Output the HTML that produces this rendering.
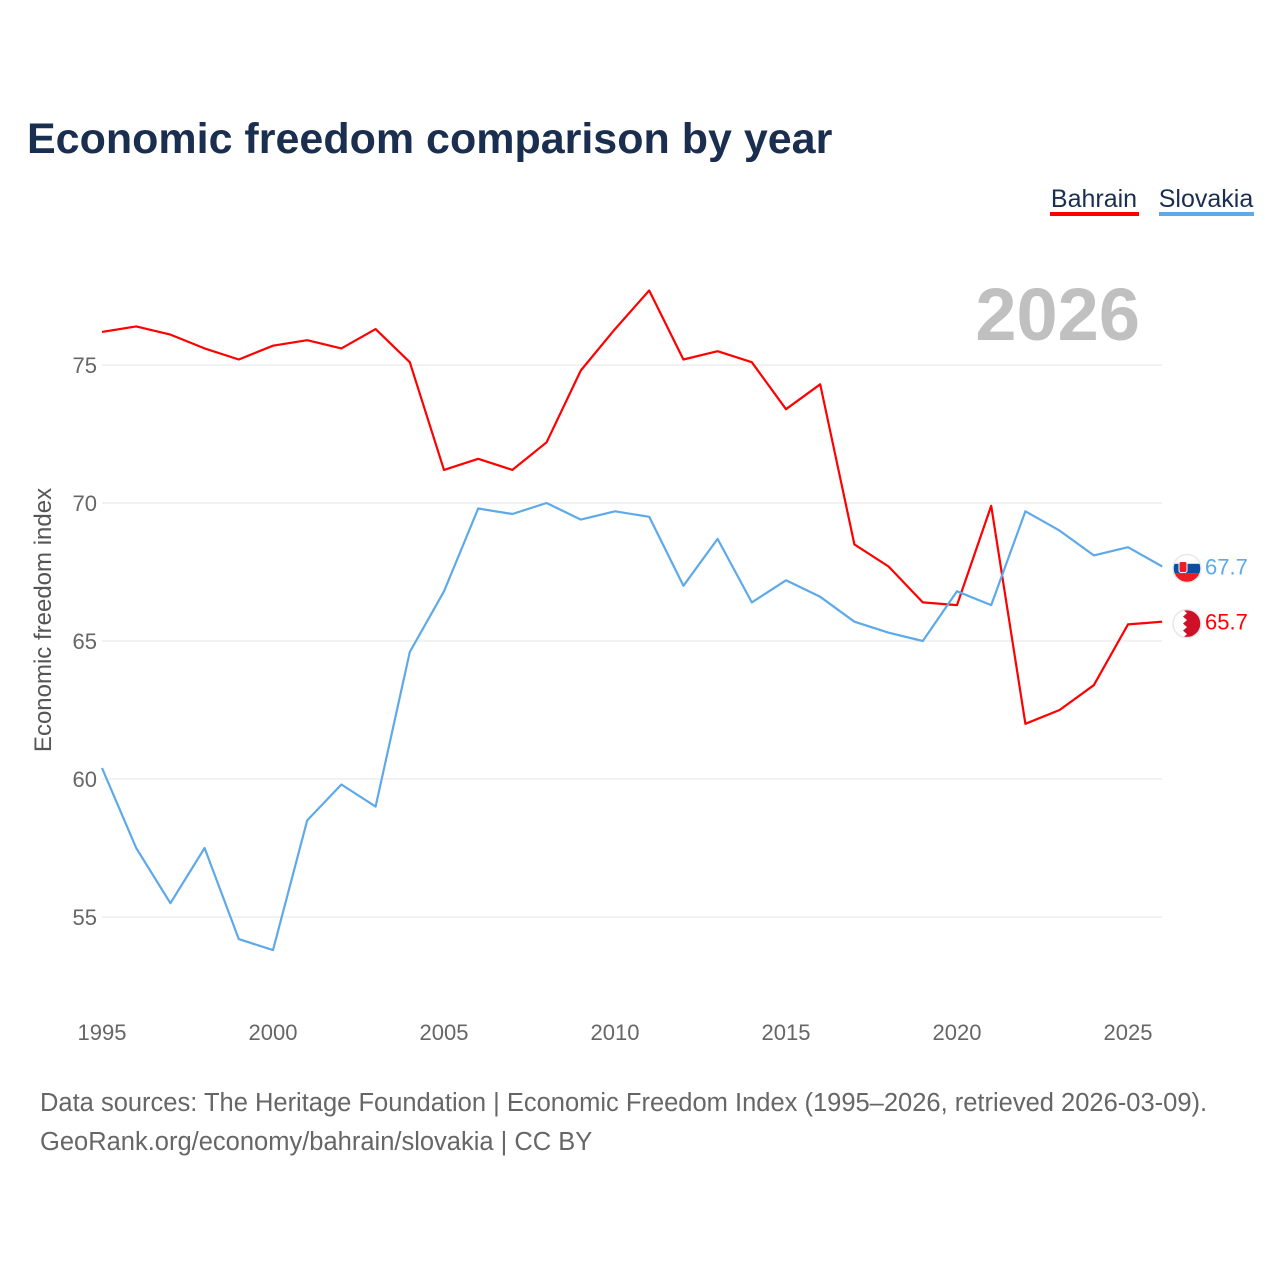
<!DOCTYPE html>
<html><head><meta charset="utf-8">
<style>
body{margin:0;background:#fff;font-family:"Liberation Sans",sans-serif;}
#wrap{position:relative;width:1280px;height:1280px;}
</style></head>
<body>
<div id="wrap">
<svg id="chart" width="1280" height="1280" xmlns="http://www.w3.org/2000/svg">
<defs><clipPath id="cc"><circle cx="0" cy="0" r="14"/></clipPath></defs>
<text x="27" y="153" font-size="43" font-weight="bold" fill="#1a2e4f">Economic freedom comparison by year</text>
<g>
<text x="1094" y="207" font-size="25" fill="#1a2e4f" text-anchor="middle">Bahrain</text>
<rect x="1050" y="212" width="89" height="4" fill="#ff0000"/>
</g>
<g>
<text x="1206" y="207" font-size="25" fill="#1a2e4f" text-anchor="middle">Slovakia</text>
<rect x="1159" y="212" width="95" height="4" fill="#5da9e9"/>
</g>
<text x="1140" y="340" font-size="74" font-weight="bold" fill="#c0c0c0" text-anchor="end">2026</text>
<text transform="translate(51,620) rotate(-90)" font-size="24" fill="#555" text-anchor="middle">Economic freedom index</text>
<g id="grid"></g><g id="xticks"></g><g id="series"></g>
<text x="40" y="1111" font-size="25.5" fill="#666">Data sources: The Heritage Foundation | Economic Freedom Index (1995–2026, retrieved 2026-03-09).</text>
<text x="40" y="1150" font-size="25.5" fill="#666">GeoRank.org/economy/bahrain/slovakia | CC BY</text>
</svg>
</div>
<script>
const years = [1995,1996,1997,1998,1999,2000,2001,2002,2003,2004,2005,2006,2007,2008,2009,2010,2011,2012,2013,2014,2015,2016,2017,2018,2019,2020,2021,2022,2023,2024,2025,2026];
const bahrain = [76.2,76.4,76.1,75.6,75.2,75.7,75.9,75.6,76.3,75.1,71.2,71.6,71.2,72.2,74.8,76.3,77.7,75.2,75.5,75.1,73.4,74.3,68.5,67.7,66.4,66.3,69.9,62.0,62.5,63.4,65.6,65.7];
const slovakia = [60.4,57.5,55.5,57.5,54.2,53.8,58.5,59.8,59.0,64.6,66.8,69.8,69.6,70.0,69.4,69.7,69.5,67.0,68.7,66.4,67.2,66.6,65.7,65.3,65.0,66.8,66.3,69.7,69.0,68.1,68.4,67.7];
const yTicks = [55,60,65,70,75];
const xTicks = [1995,2000,2005,2010,2015,2020,2025];

const NS = "http://www.w3.org/2000/svg";
function X(yr){return 102 + (yr-1995)*34.2;}
function Y(v){return 365 + (75-v)*27.6;}
function mk(tag, attrs, parent){const e=document.createElementNS(NS,tag);for(const k in attrs)e.setAttribute(k,attrs[k]);parent.appendChild(e);return e;}

const grid=document.getElementById('grid');
yTicks.forEach(t=>{
  const l=mk('line',{x1:102,x2:1162,y1:Y(t),y2:Y(t),stroke:'#e6e6e6','stroke-width':1},grid);
  
  
  const tx=mk('text',{x:97,y:Y(t)+8,'font-size':22,fill:'#666','text-anchor':'end'},grid);
  tx.textContent=t;
  
  
});
const xt=document.getElementById('xticks');
xTicks.forEach(t=>{
  const tx=mk('text',{x:X(t),y:1040,'font-size':22,fill:'#666','text-anchor':'middle'},xt);
  tx.textContent=t;
  
  
});
const sg=document.getElementById('series');
function drawSeries(vals,color,name,flagDraw){
  const d=vals.map((v,i)=>(i?'L':'M')+X(years[i]).toFixed(1)+','+Y(v).toFixed(1)).join(' ');
  const p=mk('path',{d:d,fill:'none',stroke:color,'stroke-width':2.2,'stroke-linejoin':'round'},sg);
  
  
  const last=vals[vals.length-1];
  const cx=1187, cy=Y(last)+2;
  const g=mk('g',{transform:`translate(${cx},${cy})`},sg);
  
  
  const inner=mk('g',{'clip-path':'url(#cc)'},g);
  flagDraw(inner);
  mk('circle',{cx:0,cy:0,r:14,fill:'none',stroke:'#e8e8e8','stroke-width':1.5},g);
  const lb=mk('text',{x:1205,y:Y(last)+8,'font-size':22,fill:color},sg);
  lb.textContent=last.toFixed(1);
  
  
}
drawSeries(bahrain,'#ff0000','bahrain',(g)=>{
  mk('rect',{x:-14,y:-14,width:28,height:28,fill:'#ce1126'},g);
  mk('path',{d:`M-14,-14 h10 l4,3.5 -4,3.5 4,3.5 -4,3.5 4,3.5 -4,3.5 4,3.5 -4,3.5 h-10 z`,fill:'#fff'},g);
});
drawSeries(slovakia,'#5da9e9','slovakia',(g)=>{
  mk('rect',{x:-14,y:-14,width:28,height:9.3,fill:'#fff'},g);
  mk('rect',{x:-14,y:-4.7,width:28,height:9.3,fill:'#0b4ea2'},g);
  mk('rect',{x:-14,y:4.6,width:28,height:9.4,fill:'#ee1c25'},g);
  mk('rect',{x:-8,y:-7,width:8,height:11,rx:2,fill:'#ee1c25',stroke:'#fff','stroke-width':1},g);
});
</script>
</body></html>
